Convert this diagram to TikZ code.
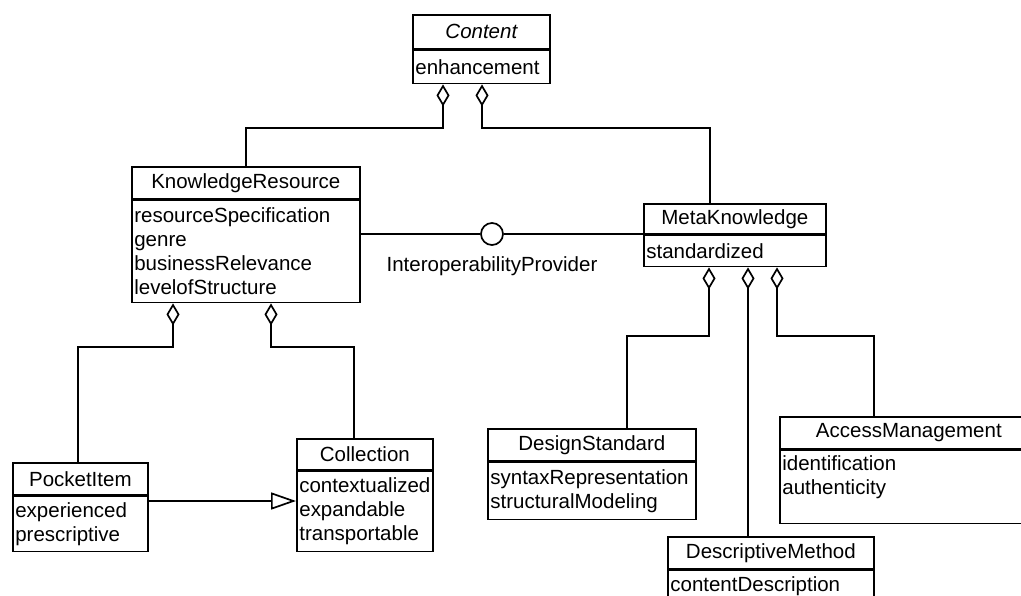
\documentclass[tikz,border=0pt]{standalone}
\usepackage{fontspec}
\setmainfont{Liberation Sans}
\usetikzlibrary{arrows.meta}
\begin{document}
\begin{tikzpicture}[x=1pt,y=-1pt, line width=1.7pt,
  ctitle/.style={draw, inner sep=0pt, anchor=north west,
    font=\fontsize{20.5}{24}\selectfont},
  cattr/.style={draw, inner xsep=2.5pt, inner ysep=0pt, anchor=north west,
    align=left, font=\fontsize{20.5}{24}\selectfont},
  agg/.style={-{Diamond[length=22pt,width=13pt,fill=white]}},
  gen/.style={-{Triangle[length=25pt,width=17pt,fill=white]}},
  lbl/.style={font=\fontsize{20.5}{24}\selectfont, inner sep=0pt}]
\useasboundingbox (0,0) rectangle (1021,595);
\clip (0,0) rectangle (1021,595);
\fill[white] (0,0) rectangle (1021,595);

% levels of the horizontal runs
\coordinate (lvlTop) at (0,128);
\coordinate (lvlKR) at (0,347);
\coordinate (lvlMK) at (0,336);
\coordinate (lvlGen) at (0,501);

% Content
\node[ctitle, minimum width=137pt, minimum height=34pt] (cT) at (412,14) {\itshape Content};
\node[cattr, text width=132pt, minimum height=33pt] (cA) at (cT.south west) {enhancement};

% KnowledgeResource
\node[ctitle, minimum width=228pt, minimum height=32pt] (krT) at (131,166) {KnowledgeResource};
\node[cattr, text width=223pt, minimum height=102pt] (krA) at (krT.south west)
  {resourceSpecification\\genre\\businessRelevance\\levelofStructure};

% MetaKnowledge
\node[ctitle, minimum width=182pt, minimum height=30pt] (mkT) at (643,203) {MetaKnowledge};
\node[cattr, text width=177pt, minimum height=31pt] (mkA) at (mkT.south west) {standardized};

% DesignStandard
\node[ctitle, minimum width=208pt, minimum height=32pt] (dsT) at (487,428) {DesignStandard};
\node[cattr, text width=203pt, minimum height=57pt] (dsA) at (dsT.south west)
  {syntaxRepresentation\\structuralModeling};

% AccessManagement
\node[ctitle, minimum width=258pt, minimum height=32pt] (amT) at (779,416) {AccessManagement};
\node[cattr, text width=253pt, minimum height=73pt] (amA) at (amT.south west)
  {identification\\authenticity\\\mbox{}};

% DescriptiveMethod
\node[ctitle, minimum width=206pt, minimum height=32pt] (dmT) at (667,536) {DescriptiveMethod};
\node[cattr, text width=201pt, minimum height=32pt] (dmA) at (dmT.south west) {contentDescription};

% PocketItem
\node[ctitle, minimum width=135pt, minimum height=32pt] (piT) at (12,462) {PocketItem};
\node[cattr, text width=130pt, minimum height=55pt] (piA) at (piT.south west)
  {experienced\\prescriptive};

% Collection
\node[ctitle, minimum width=136pt, minimum height=31pt] (coT) at (296,438) {Collection};
\node[cattr, text width=131pt, minimum height=80pt] (coA) at (coT.south west)
  {contextualized\\expandable\\transportable};

% aggregations into Content
\coordinate (cD1) at ([xshift=31pt]cA.south west);
\coordinate (cD2) at ([xshift=70pt]cA.south west);
\draw[agg] (krT.north) -- (krT.north |- lvlTop) -| (cD1);
\coordinate (mkIn) at ([xshift=67pt]mkT.north west);
\draw[agg] (mkIn) -- (mkIn |- lvlTop) -| (cD2);

% interface between KnowledgeResource and MetaKnowledge
\node[circle, draw, fill=white, minimum size=22pt, inner sep=0pt] (ip) at (492,234) {};
\draw (krA.east |- ip) -- (ip.west);
\draw (ip.east) -- (mkA.west |- ip);
\node[lbl] (ipl) at (492,266) {InteroperabilityProvider};

% aggregations into KnowledgeResource
\coordinate (krD1) at ([xshift=42pt]krA.south west);
\coordinate (krD2) at ([xshift=140pt]krA.south west);
\coordinate (piIn) at ([xshift=66pt]piT.north west);
\coordinate (coIn) at ([xshift=58pt]coT.north west);
\draw[agg] (piIn) -- (piIn |- lvlKR) -| (krD1);
\draw[agg] (coIn) -- (coIn |- lvlKR) -| (krD2);

% generalisation PocketItem -> Collection
\draw[gen] (piA.east |- lvlGen) -- (coA.west |- lvlGen);

% aggregations into MetaKnowledge
\coordinate (mkD1) at ([xshift=66pt]mkA.south west);
\coordinate (mkD2) at ([xshift=105pt]mkA.south west);
\coordinate (mkD3) at ([xshift=134pt]mkA.south west);
\coordinate (dsIn) at ([xshift=140pt]dsT.north west);
\coordinate (dmIn) at ([xshift=81pt]dmT.north west);
\coordinate (amIn) at ([xshift=95pt]amT.north west);
\draw[agg] (dsIn) -- (dsIn |- lvlMK) -| (mkD1);
\draw[agg] (dmIn) -- (mkD2);
\draw[agg] (amIn) -- (amIn |- lvlMK) -| (mkD3);
\end{tikzpicture}
\end{document}
